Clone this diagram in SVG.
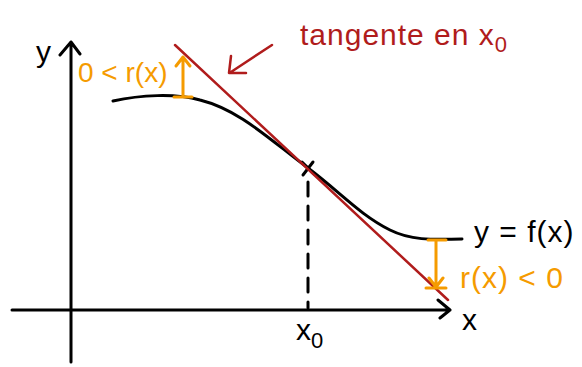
<svg xmlns="http://www.w3.org/2000/svg" width="582" height="367" viewBox="0 0 582 367">
<style>
.k{fill:none;stroke:#000;stroke-width:3;stroke-linecap:round;stroke-linejoin:round}
.r{fill:none;stroke:#b01c1c;stroke-width:2.5;stroke-linecap:round;stroke-linejoin:round}
.o{fill:none;stroke:#f59b00;stroke-width:3;stroke-linecap:round;stroke-linejoin:round}
.t{font-family:"Liberation Sans",sans-serif}
.tk{fill:#000}
.tr{fill:#b01c1c}
.to{fill:#f59b00}
</style>
<rect width="582" height="367" fill="#fff"/>
<g id="axes">
<path class="k" d="M71,362 L71,42 M60,55 L71,42 L80,54"/>
<path class="k" d="M12,310 L450,310 M438,300 L450,310 L440,318"/>
<text class="t tk" x="36" y="62" font-size="30">y</text>
<text class="t tk" x="462" y="330" font-size="30">x</text>
<text class="t tk" x="296" y="340" font-size="30">x<tspan font-size="22" dy="8">0</tspan></text>
</g>
<g id="curve">
<path class="k" d="M113,101 C140,95 175,93 200,100 C240,110 270,140 308,168 C340,192 360,215 390,230 C410,240 430,240 462,239"/>
<path class="k" d="M302,162 L314,174 M313,162 L303,175"/>
<path class="k" d="M308,182 L308,308" stroke-dasharray="14 10"/>
<text class="t tk" x="474" y="242" font-size="30" letter-spacing="1">y = f(x)</text>
</g>
<g id="tangent">
<path class="r" d="M175,45 L448,300"/>
<path class="r" d="M272,45 L231,72 M231,56 L229,73 L246,73"/>
<text class="t tr" x="300" y="45" font-size="30" letter-spacing="1">tangente en x<tspan font-size="22" dy="7">0</tspan></text>
</g>
<g id="positive">
<text class="t to" x="78" y="82" font-size="28">0 &lt; r(x)</text>
<path class="o" d="M183,97 L183,57 M176,66 L183,57 L190,66 M174,97 L192,97"/>
</g>
<g id="negative">
<text class="t to" x="460" y="288" font-size="30" letter-spacing="1">r(x) &lt; 0</text>
<path class="o" d="M436,240 L436,287 M429,278 L436,287 L443,278 M428,240 L446,240 M426,288 L446,288"/>
</g>
</svg>
